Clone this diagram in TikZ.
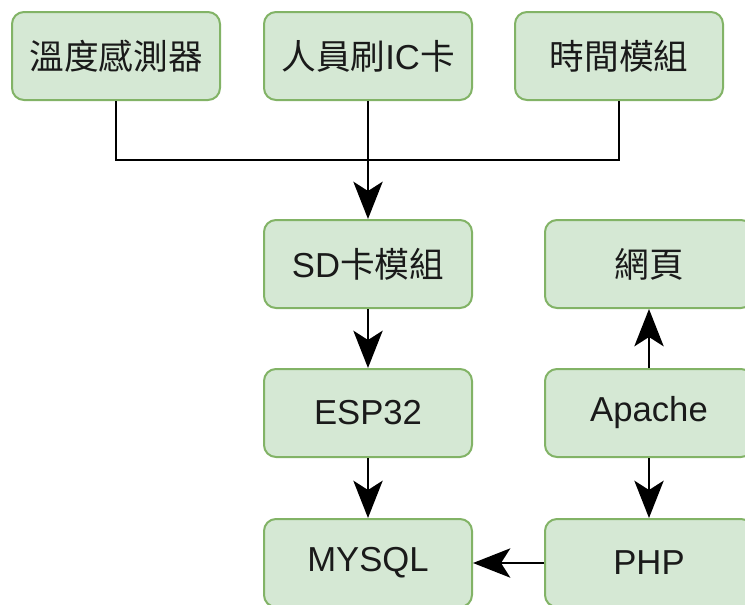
\documentclass[tikz,border=0pt]{standalone}
\usepackage{fontspec}
\setmainfont{Liberation Sans}
\newfontfamily\cjk{Noto Sans CJK TC}
\usetikzlibrary{arrows.meta,positioning}

\definecolor{boxfill}{HTML}{D5E8D4}
\definecolor{boxline}{HTML}{82B366}
\definecolor{boxtext}{HTML}{1A1A1A}

\begin{document}
\begin{tikzpicture}[
		x=0.75pt,
		y=-0.75pt,
		block/.style={
			draw=boxline,
			fill=boxfill,
			rounded corners=9pt,
			line width=1.5pt,
			minimum width=156pt,
			minimum height=66pt,
			text=boxtext,
			font=\fontsize{26}{30}\selectfont
		},
		link/.style={
			line width=1.5pt,
			-{Stealth[length=28pt,width=22pt,inset=7pt]}
		}
		]
		\useasboundingbox (0,0) rectangle (745,604);
		% top row
		\node[block] (temp) at (116,56) {\cjk 溫度感測器};
		\node[block] (card) at (368,56) {{\cjk 人員刷}IC{\cjk 卡}};
		\node[block] (clock) at (619,56) {\cjk 時間模組};
		% left column
		\node[block] (sd) at (368,264) {SD{\cjk 卡模組}};
		\node[block] (esp) at (368,413) {ESP32};
		\node[block] (mysql) at (368,563) {MYSQL};
		% right column
		\node[block] (web) at (649,264) {\cjk 網頁};
		\node[block] (apache) at (649,413) {Apache};
		\node[block] (php) at (649,563) {PHP};

		\coordinate (join) at (368,160);
		\draw[line width=1.5pt] (temp.south) |- (join) -| (clock.south);
		\draw[line width=1.5pt] (card.south) -- (join);
		\draw[link] (join) -- (sd.north);
		\draw[link] (sd) -- (esp);
		\draw[link] (esp) -- (mysql);
		\draw[link] (apache) -- (web);
		\draw[link] (apache) -- (php);
		\draw[link] (php) -- (mysql);
\end{tikzpicture}
\end{document}
